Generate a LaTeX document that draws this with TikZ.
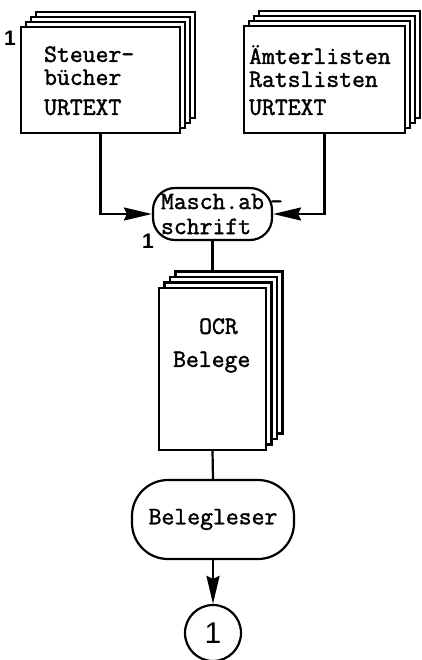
\documentclass[tikz,border=0pt]{standalone}
\usepackage{fontspec}
\newfontfamily\helvet{Liberation Sans}
\newfontfamily\typewriter{Latin Modern Mono}[FakeBold=1.6]
\usetikzlibrary{arrows.meta,calc,positioning}

\begin{document}
\begin{tikzpicture}[x=1pt, y=-1pt,
  flow arrow/.style={
    arrows = {-Stealth[length=28pt,width=13pt,inset=3pt]},
    line width=2.2pt
  },
  link/.style={
    line width=2.2pt
  },
  sheet/.style={
    draw,
    fill=white,
    inner sep=0pt,
    line width=2.2pt
  },
  terminal/.style={
    draw,
    rounded corners=#1,
    inner sep=0pt,
    line width=2.2pt,
    font=\typewriter\fontsize{25}{25}\selectfont
  },
  txt/.style={
    anchor=base west,
    inner sep=0pt,
    font=\typewriter\fontsize{25}{25}\selectfont
  },
  num/.style={
    inner sep=0pt,
    font=\helvet\bfseries\fontsize{21}{21}\selectfont
  }]
  \useasboundingbox (0,0) rectangle (422,660);

  % left stack
  \begin{scope}
    \foreach \k in {3,2,1}
      \node [sheet, minimum width=159pt, minimum height=106pt] (steuer\k) at ($(100.5,80) + (5*\k,-5*\k)$) {};
    \node [sheet, minimum width=159pt, minimum height=106pt] (steuer) at (100.5,80) {};

    \node [txt] (steuer l1) at ($(steuer.north west) + (24,36)$) {Steuer-};
    \node [txt] (steuer l2) at ($(steuer.north west) + (24,59)$) {bücher};
    \node [txt] (steuer l3) at ($(steuer.north west) + (24,89)$) {URTEXT};
    \node [num] (one a) at (10,38) {1};
  \end{scope}

  % right stack
  \begin{scope}
    \foreach \k in {3,2,1}
      \node [sheet, minimum width=161pt, minimum height=107pt] (aemter\k) at ($(324.5,79.5) + (5*\k,-5*\k)$) {};
    \node [sheet, minimum width=161pt, minimum height=107pt] (aemter) at (324.5,79.5) {};

    \node [txt] (aemter l1) at ($(aemter.north west) + (6,39)$) {Ämterlisten};
    \node [txt] (aemter l2) at ($(aemter.north west) + (6,62)$) {Ratslisten};
    \node [txt] (aemter l3) at ($(aemter.north west) + (6,90)$) {URTEXT};
  \end{scope}

  \node [terminal=22pt, minimum width=119pt, minimum height=52pt, align=left] (masch) at (212.5,214)
    {Masch.ab\rlap{\hspace{6pt}-}\\schrift};
  \node [num] (one b) at (148,241) {1};

  % OCR stack
  \begin{scope}
    \foreach \k in {3,2,1}
      \node [sheet, minimum width=107pt, minimum height=162pt] (ocr\k) at ($(212.5,369) + (5.5*\k,-5.5*\k)$) {};
    \node [sheet, minimum width=107pt, minimum height=162pt] (ocr) at (212.5,369) {};

    \node [txt] (ocr l1) at ($(ocr.north west) + (41,47)$) {OCR};
    \node [txt] (ocr l2) at ($(ocr.north west) + (15,80)$) {Belege};
  \end{scope}

  \node [terminal=36pt, minimum width=162pt, minimum height=79pt] (leser) at (213,519.5)
    {\raisebox{-6pt}{Belegleser}};
  \node [draw, circle, line width=2.2pt, minimum size=56pt, inner sep=0pt,
    font=\helvet\fontsize{30}{30}\selectfont] (end) at (213,633) {1};

  \draw [flow arrow] (steuer.south) |- (masch.west);
  \draw [flow arrow] (aemter.south) |- (masch.east);
  \draw [link] (masch.south) -- (masch.south |- ocr3.north);
  \draw [link] (ocr.south) -- (leser.north);
  \draw [flow arrow] (leser.south) -- (end.north);
\end{tikzpicture}
\end{document}
